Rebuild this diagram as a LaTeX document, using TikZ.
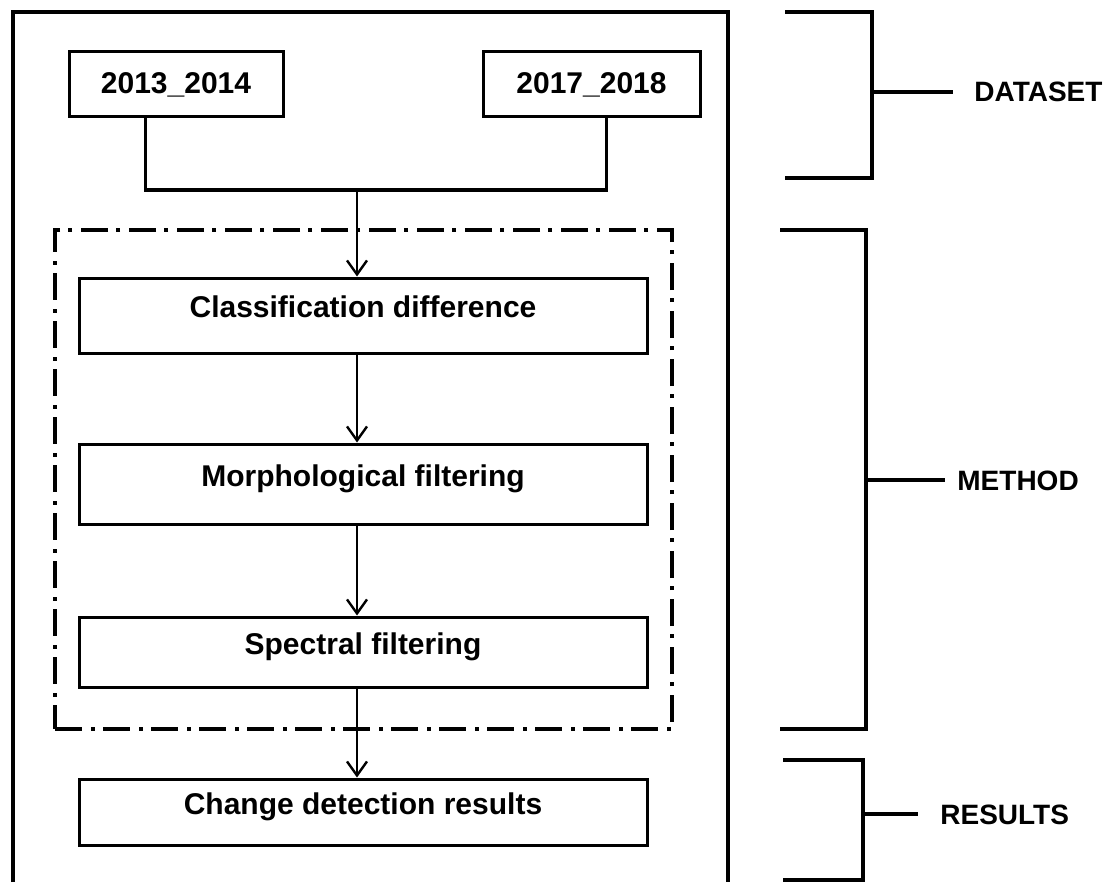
\documentclass[tikz,border=0pt]{standalone}
\usepackage{fontspec}
\setmainfont{Liberation Sans}
\usetikzlibrary{arrows.meta}
\begin{document}
\begin{tikzpicture}[x=0.5pt, y=-0.5pt,
		box/.style={draw, line width=1.5pt, font=\bfseries\fontsize{15}{18}\selectfont},
		stepbox/.style={box, minimum width=284pt, text height=11pt, text depth=9pt},
		flow/.style={-{Straight Barb[length=7pt, width=10pt, line width=1.2pt]}, line width=1pt},
		brace/.style={line width=2pt},
		side/.style={anchor=west, inner sep=0pt, font=\bfseries\fontsize{14}{17}\selectfont}]
	\useasboundingbox (0,0) rectangle (1111,882);

	% outer frame
	\draw[line width=2pt] (13,882) -- (13,12) -- (728,12) -- (728,882);

	% method frame
	\node[draw, line width=2pt, dash pattern=on 13.5pt off 4.5pt on 2pt off 4pt,
		minimum width=308.5pt, minimum height=249.5pt] (method) at (363.5,479.5) {};

	\node[box, minimum width=107pt, minimum height=32.5pt] (d13) at (176,84.5) {2013\_2014};
	\node[box, minimum width=108.5pt, minimum height=32.5pt] (d17) at (591.5,84.5) {2017\_2018};

	\node[stepbox, minimum height=37.5pt] (classif) at (363,315.5) {Classification difference};
	\node[stepbox, minimum height=40pt] (morpho) at (363,484) {Morphological filtering};
	\node[stepbox, minimum height=35pt] (spectral) at (363,652) {Spectral filtering};
	\node[stepbox, minimum height=33pt] (results) at (363,812) {Change detection results};

	\coordinate (j) at (357,190);
	\draw[line width=1.5pt] ([xshift=-15.5pt]d13.south) |- (j) -| ([xshift=7.5pt]d17.south);
	\draw[flow] (j) -- (j |- classif.north);
	\draw[flow] (j |- classif.south) -- (j |- morpho.north);
	\draw[flow] (j |- morpho.south) -- (j |- spectral.north);
	\draw[flow] (j |- spectral.south) -- (j |- results.north);

	% brackets
	\draw[brace] (785,12) -- (872,12) -- (872,178) -- (785,178);
	\draw[brace] (872,92) -- (953,92);
	\node[side] (dataset) at (974,92) {DATASET};
	\draw[brace] (780,230) -- (866,230) -- (866,729) -- (780,729);
	\draw[brace] (866,480) -- (945,480);
	\node[side] (meth) at (957,481) {METHOD};
	\draw[brace] (783,760) -- (863,760) -- (863,880) -- (783,880);
	\draw[brace] (863,814) -- (918,814);
	\node[side] (res) at (940,815) {RESULTS};
\end{tikzpicture}
\end{document}
